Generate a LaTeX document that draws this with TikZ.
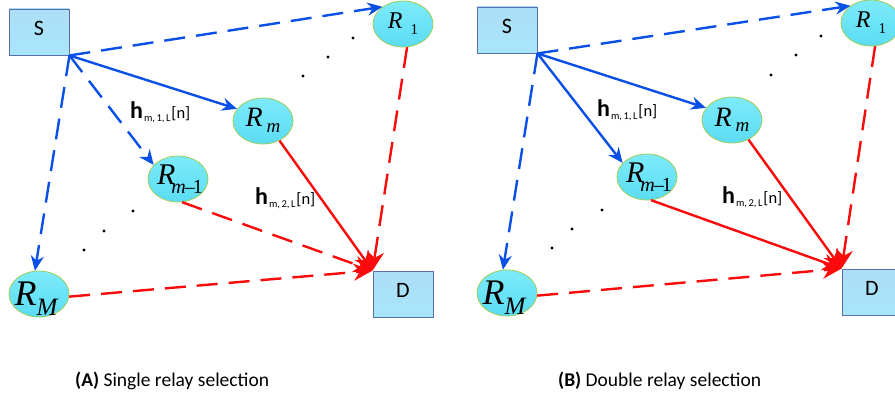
\documentclass[tikz,border=0pt]{standalone}
\usepackage{fontspec}
\setmainfont{Carlito}
\newfontfamily\timesf{Liberation Serif}
\newfontfamily\calf{Carlito}
\usetikzlibrary{arrows.meta,shapes.geometric}
\definecolor{lnblue}{RGB}{10,80,230}
\definecolor{lnred}{RGB}{250,10,10}
\definecolor{cyantop}{RGB}{125,235,250}
\definecolor{cyanbot}{RGB}{90,220,244}
\definecolor{ellborder}{RGB}{160,205,90}
\definecolor{boxtop}{RGB}{172,222,245}
\definecolor{boxbot}{RGB}{168,230,252}
\definecolor{boxborder}{RGB}{90,110,175}
\newcommand{\relayOne}{{\timesf\fontsize{24}{24}\selectfont\itshape R}\hspace{8pt}\raisebox{-6pt}{\timesf\fontsize{15}{15}\selectfont 1}}
\newcommand{\relaym}{{\timesf\fontsize{28}{28}\selectfont\itshape R}\hspace{4pt}\raisebox{-6pt}{\timesf\fontsize{19}{19}\selectfont\itshape m}}
\newcommand{\relaymm}{{\timesf\fontsize{30}{30}\selectfont\itshape R}\hspace{-4pt}\raisebox{-9pt}{\timesf\fontsize{20}{20}\selectfont\itshape m\upshape\hspace{-1pt}–\hspace{-2pt}1}}
\newcommand{\relayMM}{{\timesf\fontsize{36}{36}\selectfont\itshape R}\hspace{0pt}\raisebox{-10pt}{\timesf\fontsize{25}{25}\selectfont\itshape M}}
\newcommand{\hlab}[1]{{\calf\fontsize{24}{24}\selectfont\bfseries h}\hspace{1pt}\raisebox{-3pt}{\calf\fontsize{10.5}{10.5}\selectfont m,\hspace{1.5pt}#1,\hspace{1.5pt}L}\hspace{1pt}{\calf\fontsize{16.5}{16.5}\selectfont[n]}}
\tikzset{
  boxnode/.style={draw=boxborder, line width=0.9pt, top color=boxtop, bottom color=boxbot,
    minimum width=60pt, minimum height=46pt, inner sep=0pt, font=\calf\fontsize{22}{22}\selectfont},
  relay/.style={ellipse, draw=ellborder, line width=0.8pt, top color=cyantop, bottom color=cyanbot,
    minimum width=60pt, minimum height=46pt, inner sep=0pt},
  bsolid/.style={draw=lnblue, line width=2.4pt, -{Stealth[length=15pt,width=13pt]}},
  bdash/.style={bsolid, dash pattern=on 21pt off 11pt},
  rsolid/.style={draw=lnred, line width=2.4pt, -{Stealth[length=19pt,width=17pt]}},
  rdash/.style={rsolid, dash pattern=on 21pt off 11pt},
  hlabel/.style={anchor=base west, inner sep=0pt},
  dotpt/.style={fill=black, circle, inner sep=0pt, minimum size=3.4pt},
  caption/.style={anchor=base west, inner sep=0pt, font=\calf\fontsize{19.5}{19.5}\selectfont}
}
\begin{document}
\begin{tikzpicture}[x=1pt,y=-1pt]
\useasboundingbox (0,0) rectangle (895,396);
% ---------- Panel A ----------
\node[boxnode] (SA) at (39,32) {\raisebox{7pt}{S}};
\node[boxnode] (DA) at (403,294) {\raisebox{7pt}{D}};
\node[relay] (R1A) at (403,24) {\raisebox{-5pt}[0pt][0pt]{\makebox[0pt]{\relayOne}}};
\node[relay] (RmA) at (263,121) {\raisebox{-6pt}[0pt][0pt]{\makebox[0pt]{\relaym}}};
\node[relay] (RmmA) at (178,179) {\raisebox{-5pt}[0pt][0pt]{\makebox[0pt]{\hspace{4pt}\relaymm}}};
\node[relay] (RMA) at (39,294) {\raisebox{-11pt}[0pt][0pt]{\makebox[0pt]{\hspace{-6pt}\relayMM}}};
\draw[bdash] (SA.south east) -- (R1A.140);
\draw[bsolid] (SA.south east) -- (RmA.155);
\draw[bdash] (SA.south east) -- (RmmA.150);
\draw[bdash] (SA.south east) -- (RMA.100);
\draw[rdash] (R1A.-80) -- (DA.north west);
\draw[rsolid] (RmA.-50) -- (DA.north west);
\draw[rdash] (RmmA.-80) -- (DA.north west);
\draw[rdash] (RMA.-5) -- (DA.north west);
\node[hlabel] (h1A) at (130,118) {\hlab{1}};
\node[hlabel] (h2A) at (255,204) {\hlab{2}};
\node[dotpt] (d1A) at (353,38) {};
\node[dotpt] (d2A) at (328,57) {};
\node[dotpt] (d3A) at (303,76) {};
\node[dotpt] (d4A) at (133,211) {};
\node[dotpt] (d5A) at (104,231) {};
\node[dotpt] (d6A) at (84,250) {};
\node[caption] (capA) at (75,386) {\textbf{(A)} Single relay selection};
% ---------- Panel B ----------
\node[boxnode] (SB) at (507,30) {\raisebox{7pt}{S}};
\node[boxnode] (DB) at (872,292) {\raisebox{7pt}{D}};
\node[relay] (R1B) at (871,23) {\raisebox{-5pt}[0pt][0pt]{\makebox[0pt]{\relayOne}}};
\node[relay] (RmB) at (732,120) {\raisebox{-6pt}[0pt][0pt]{\makebox[0pt]{\relaym}}};
\node[relay] (RmmB) at (647,177) {\raisebox{-5pt}[0pt][0pt]{\makebox[0pt]{\hspace{4pt}\relaymm}}};
\node[relay] (RMB) at (507,293) {\raisebox{-11pt}[0pt][0pt]{\makebox[0pt]{\hspace{-6pt}\relayMM}}};
\draw[bdash] (SB.south east) -- (R1B.140);
\draw[bsolid] (SB.south east) -- (RmB.155);
\draw[bsolid] (SB.south east) -- (RmmB.150);
\draw[bdash] (SB.south east) -- (RMB.100);
\draw[rdash] (R1B.-80) -- (DB.north west);
\draw[rsolid] (RmB.-50) -- (DB.north west);
\draw[rsolid] (RmmB.-80) -- (DB.north west);
\draw[rdash] (RMB.-5) -- (DB.north west);
\node[hlabel] (h1B) at (597,117) {\hlab{1}};
\node[hlabel] (h2B) at (722,203) {\hlab{2}};
\node[dotpt] (d1B) at (821,36) {};
\node[dotpt] (d2B) at (796,55) {};
\node[dotpt] (d3B) at (771,75) {};
\node[dotpt] (d4B) at (602,210) {};
\node[dotpt] (d5B) at (572,229) {};
\node[dotpt] (d6B) at (552,248) {};
\node[caption] (capB) at (558,386) {\textbf{(B)} Double relay selection};
\end{tikzpicture}
\end{document}
